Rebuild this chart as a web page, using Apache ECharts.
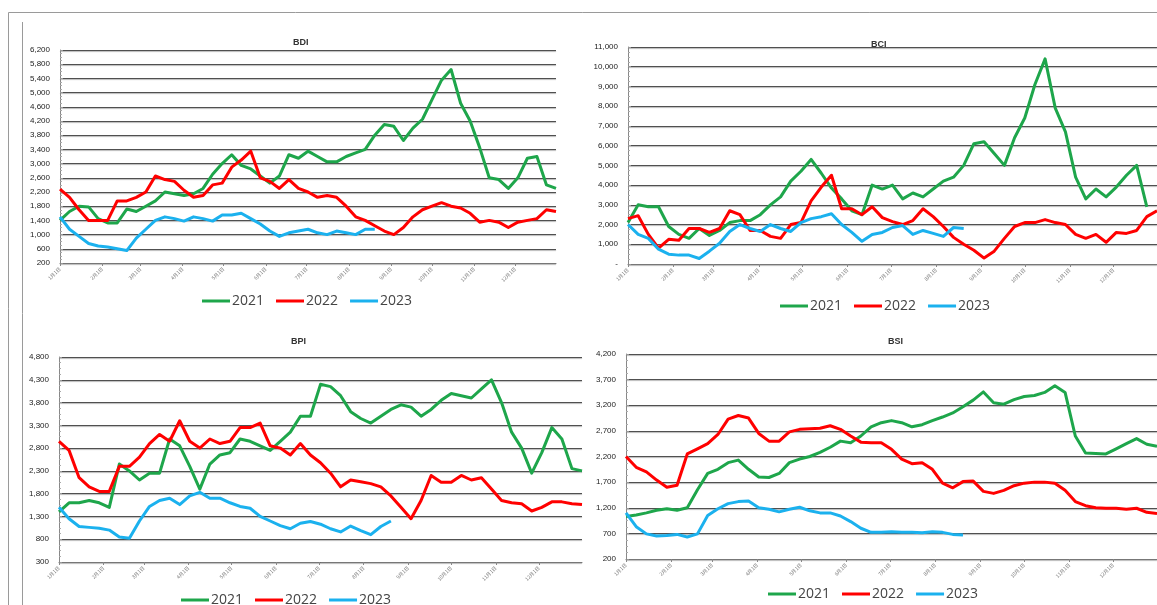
<!DOCTYPE html>
<html>
<head>
<meta charset="utf-8">
<script src="https://cdn.jsdelivr.net/npm/echarts@6/dist/echarts.min.js"></script>
<style>
  html, body { margin: 0; padding: 0; background: #fff; }
  #chart { width: 1157px; height: 605px; }
</style>
</head>
<body>
<div id="chart"></div>
<script>
// weekly readings (week 0 = 1月1日), one array per index and year
const bdi2021 = [1400,1650,1800,1780,1450,1330,1330,1720,1650,1800,1950,2200,2150,2100,2150,2300,2700,3000,3250,2950,2850,2650,2450,2650,3250,3150,3350,3200,3050,3050,3200,3300,3400,3800,4100,4050,3650,4000,4250,4800,5350,5650,4700,4200,3450,2600,2550,2300,2600,3150,3200,2400,2300];
const bdi2022 = [2280,2050,1700,1400,1400,1400,1950,1950,2050,2200,2650,2550,2500,2250,2050,2100,2400,2450,2900,3100,3350,2600,2500,2300,2550,2300,2200,2050,2100,2050,1800,1500,1400,1250,1100,1000,1200,1500,1700,1800,1900,1800,1750,1600,1350,1400,1350,1200,1350,1400,1450,1700,1650];
const bdi2023 = [1500,1150,950,750,680,650,600,550,900,1150,1400,1500,1450,1380,1500,1450,1380,1550,1550,1600,1450,1300,1100,950,1050,1100,1150,1050,1000,1100,1050,1000,1150,1150];

const bci2021 = [2100,3000,2900,2900,1900,1500,1300,1800,1450,1700,2100,2200,2200,2500,3000,3400,4200,4700,5300,4600,3850,3300,2700,2500,4000,3800,4000,3300,3600,3400,3800,4200,4400,5000,6100,6200,5600,5000,6400,7400,9100,10400,7900,6700,4400,3300,3800,3400,3900,4500,5000,2900];
const bci2022 = [2300,2450,1500,800,1250,1200,1800,1800,1600,1800,2700,2500,1700,1700,1400,1300,2000,2100,3200,3900,4500,2800,2800,2500,2900,2350,2150,2000,2200,2800,2400,1900,1350,1000,700,300,650,1300,1900,2100,2100,2250,2100,2000,1500,1300,1500,1100,1600,1550,1700,2400,2700];
const bci2023 = [2000,1500,1300,750,500,450,450,280,650,1050,1650,2000,1800,1650,2000,1800,1650,2100,2300,2400,2550,2000,1600,1150,1500,1600,1850,1950,1500,1700,1550,1400,1850,1800];

const bpi2021 = [1400,1600,1600,1650,1600,1500,2450,2300,2100,2250,2250,3000,2850,2400,1900,2450,2650,2700,3000,2950,2850,2750,2950,3150,3500,3500,4200,4150,3950,3600,3450,3350,3500,3650,3750,3700,3500,3650,3850,4000,3950,3900,4100,4300,3800,3150,2800,2250,2700,3250,3000,2350,2300];
const bpi2022 = [2950,2750,2150,1950,1850,1850,2400,2400,2600,2900,3100,2950,3400,2950,2800,3000,2900,2950,3250,3250,3350,2850,2800,2650,2900,2650,2480,2250,1950,2100,2060,2020,1950,1750,1500,1250,1650,2200,2050,2050,2200,2100,2150,1900,1650,1600,1580,1420,1500,1620,1620,1580,1560];
const bpi2023 = [1500,1250,1080,1060,1040,1000,850,820,1200,1520,1650,1700,1560,1750,1830,1700,1700,1600,1520,1480,1300,1200,1100,1030,1150,1190,1130,1030,960,1090,990,900,1080,1200];

const bsi2021 = [1030,1060,1100,1150,1180,1150,1200,1550,1870,1950,2080,2130,1950,1800,1790,1870,2080,2150,2200,2280,2380,2500,2470,2600,2780,2860,2900,2860,2780,2820,2900,2970,3050,3170,3300,3460,3250,3220,3310,3370,3390,3450,3580,3450,2600,2270,2260,2250,2350,2450,2550,2440,2400];
const bsi2022 = [2200,1990,1900,1740,1600,1640,2250,2350,2450,2630,2930,3000,2950,2650,2500,2500,2680,2730,2740,2750,2800,2730,2600,2480,2470,2470,2340,2150,2060,2080,1950,1680,1590,1710,1720,1520,1480,1540,1630,1680,1700,1700,1680,1540,1320,1240,1200,1190,1190,1170,1190,1110,1090];
const bsi2023 = [1100,830,690,650,660,680,630,690,1050,1180,1280,1320,1330,1200,1170,1120,1170,1210,1140,1100,1100,1040,930,800,720,720,730,720,720,710,730,720,680,670];

const years = ['2021', '2022', '2023'];
const monthStarts = [0, 31, 59, 90, 120, 151, 181, 212, 243, 273, 304, 334];
const monthLabels = ['1月1日','2月1日','3月1日','4月1日','5月1日','6月1日','7月1日','8月1日','9月1日','10月1日','11月1日','12月1日'];

const colors = ['#1ea64b', '#ff0000', '#1bb1ee'];
const labelFont = '"Liberation Sans", Arial, sans-serif';

const panels = [
    { title: 'BDI', data: [bdi2021, bdi2022, bdi2023], grid: { left: 60, top: 50, width: 496, height: 213 },
      y: { min: 200, max: 6200, interval: 400 }, titlePos: [288, 33], legendPos: [197, 289] },
    { title: 'BCI', data: [bci2021, bci2022, bci2023], grid: { left: 628, top: 47, width: 529, height: 217 },
      y: { min: 0, max: 11000, interval: 1000 }, titlePos: [866, 35], legendPos: [775, 294] },
    { title: 'BPI', data: [bpi2021, bpi2022, bpi2023], grid: { left: 59, top: 357, width: 523, height: 205 },
      y: { min: 300, max: 4800, interval: 500 }, titlePos: [286, 332], legendPos: [176, 588] },
    { title: 'BSI', data: [bsi2021, bsi2022, bsi2023], grid: { left: 626, top: 354, width: 531, height: 205 },
      y: { min: 200, max: 4200, interval: 500 }, titlePos: [883, 332], legendPos: [763, 582] }
];

const chart = echarts.init(document.getElementById('chart'));

const option = {
    animation: false,
    backgroundColor: '#fff',
    title: panels.map(p => ({
        text: p.title, left: p.titlePos[0], top: p.titlePos[1],
        textStyle: { fontSize: 9, fontWeight: 'bold', color: '#333', fontFamily: labelFont }
    })),
    legend: panels.map(p => ({
        data: years, left: p.legendPos[0], top: p.legendPos[1],
        icon: 'rect', itemWidth: 28, itemHeight: 3, itemGap: 12,
        textStyle: { fontSize: 14, color: '#444', fontFamily: '"Open Sans", sans-serif', padding: [0, 0, 0, -3] }
    })),
    grid: panels.map(p => p.grid),
    xAxis: panels.map((p, i) => ({
        type: 'value', gridIndex: i, min: 0, max: 364,
        axisLine: { lineStyle: { color: '#777', width: 1 } },
        axisTick: { customValues: monthStarts, length: 3, lineStyle: { color: '#888' } },
        splitLine: { show: false },
        axisLabel: {
            customValues: monthStarts, rotate: 45, fontSize: 5, color: '#777', margin: 5,
            fontFamily: '"Noto Sans CJK SC", sans-serif',
            formatter: v => monthLabels[monthStarts.indexOf(v)] || ''
        }
    })),
    yAxis: panels.map((p, i) => ({
        type: 'value', gridIndex: i, min: p.y.min, max: p.y.max, interval: p.y.interval,
        axisLine: { show: true, lineStyle: { color: '#888', width: 1 } },
        axisTick: { show: true, inside: true, length: 3, lineStyle: { color: '#999' } },
        minorTick: { show: true, splitNumber: 4, length: 2, lineStyle: { color: '#aaa' } },
        splitLine: { lineStyle: { color: '#505050', width: 1.2, shadowColor: 'rgba(0,0,0,0.3)', shadowOffsetY: 1, shadowBlur: 1 } },
        axisLabel: {
            fontSize: 8, color: '#222', margin: 10, fontFamily: labelFont,
            formatter: v => v === 0 ? '-' : v.toLocaleString('en-US')
        }
    })),
    series: panels.flatMap((p, i) => p.data.map((arr, j) => ({
        name: years[j], type: 'line', xAxisIndex: i, yAxisIndex: i,
        data: arr.map((v, k) => [k * 7, v]),
        showSymbol: false, smooth: false,
        lineStyle: { width: 3, color: colors[j], join: 'round' },
        itemStyle: { color: colors[j] }
    }))),
    graphic: [
        { type: 'polyline', shape: { points: [[8.5, 605], [8.5, 12.5], [1157, 12.5]] },
          style: { stroke: '#9a9a9a', lineWidth: 1, fill: null } },
        { type: 'line', shape: { x1: 22.5, y1: 22, x2: 22.5, y2: 605 },
          style: { stroke: '#9a9a9a', lineWidth: 1 } }
    ]
};

chart.setOption(option);
</script>
</body>
</html>
